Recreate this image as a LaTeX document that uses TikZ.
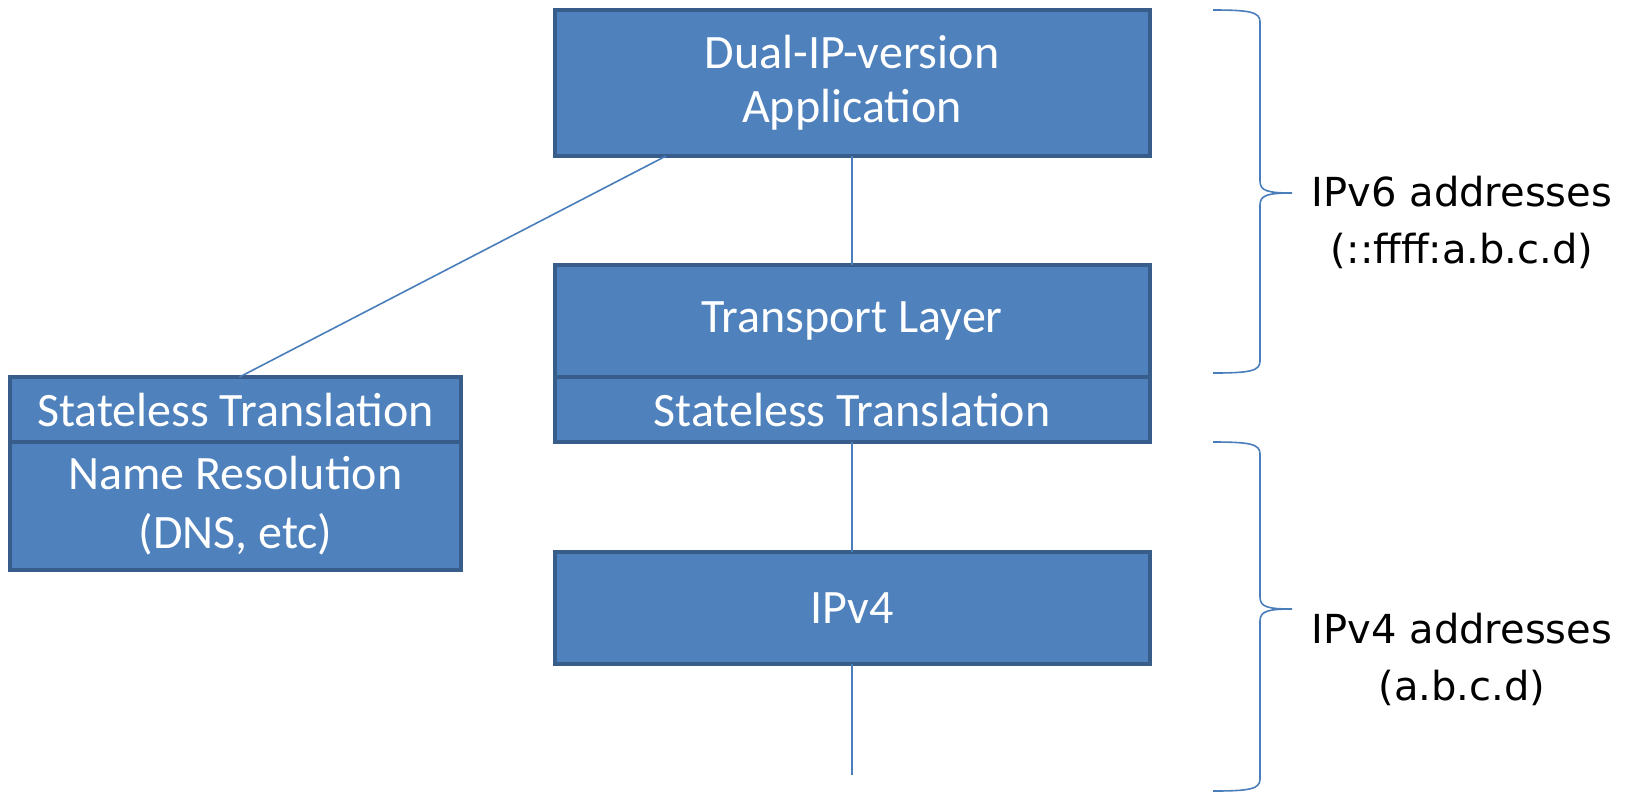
\documentclass[tikz,border=0pt]{standalone}
\usepackage{fontspec}
\setmainfont{Carlito}
\newfontfamily\addrfont{DejaVu Sans}
\usetikzlibrary{positioning}
\definecolor{layerfill}{HTML}{4F81BD}
\definecolor{layerdraw}{HTML}{385D8A}
\definecolor{linkblue}{HTML}{4A7EBB}

\begin{document}
\begin{tikzpicture}[x=0.5pt, y=-0.5pt,
    layer/.style={rectangle, draw=layerdraw, line width=2pt, fill=layerfill, text=white, align=center, minimum width=297.5pt, inner sep=0pt, outer sep=0pt, font=\fontsize{24}{27}\selectfont},
    link/.style={draw=linkblue, line width=0.8pt},
    addr/.style={align=center, font=\addrfont\fontsize{20}{28.5}\selectfont}
]
    \useasboundingbox (0,0) rectangle (1632,794);

    % protocol stack
    \node[layer, minimum height=73pt] (app) at (852,83) {Dual-IP-version\\Application};
    \node[layer, minimum height=56pt] (transport) at (852,321) {Transport Layer};
    \node[layer, minimum height=32.5pt, below=0pt of transport] (xlat) {Stateless Translation};
    \node[layer, minimum height=56pt] (ipv4) at (852,608) {IPv4};
    \coordinate (wire) at (852,775);

    % resolver side
    \node[layer, minimum width=225.5pt, minimum height=32.5pt] (hostxlat) at (235.5,409.5) {Stateless Translation};
    \node[layer, minimum width=225.5pt, minimum height=64pt, below=0pt of hostxlat, font=\fontsize{24}{29.5}\selectfont] (dns) {Name Resolution\\(DNS, etc)};

    \draw[link] (app.south) -- (transport.north);
    \draw[link] ([xshift=-93pt]app.south) -- ([xshift=2pt]hostxlat.north);
    \draw[link] (xlat.south) -- (ipv4.north);
    \draw[link] (ipv4.south) -- (wire);

    % address ranges
    \foreach \top/\tip/\bot in {10/193/373, 442/609/791}{
        \draw[link] (1213,\top) .. controls (1250,\top) and (1260,\top+2) .. (1260,\top+12)
            -- (1260,\tip-12) .. controls (1260,\tip-2) and (1268,\tip) .. (1292,\tip)
            (1292,\tip) .. controls (1268,\tip) and (1260,\tip+2) .. (1260,\tip+12)
            -- (1260,\bot-12) .. controls (1260,\bot-2) and (1250,\bot) .. (1213,\bot);
    }
    \node[addr] (v6addr) at (1462,222) {IPv6 addresses\\(::ffff:a.b.c.d)};
    \node[addr] (v4addr) at (1462,659) {IPv4 addresses\\(a.b.c.d)};
\end{tikzpicture}
\end{document}
